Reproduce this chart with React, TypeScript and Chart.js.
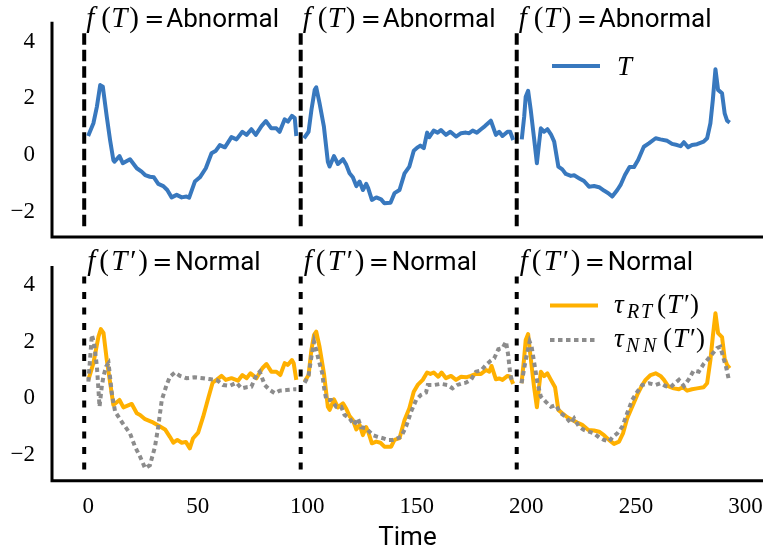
import React, { useEffect, useRef } from "react";
import { Chart, registerables } from "chart.js";

Chart.register(...registerables);

// ---------- data ----------
const X_TICKS = [0, 50, 100, 150, 200, 250, 300];
const Y_TICKS = [-2, 0, 2, 4];
const SEGMENT_STARTS = [-1.8, 97.0, 195.6];
const MARKER_TOP = 4.3;
const MARKER_BOTTOM = -2.55;
const TOP_OUTCOMES = ["Abnormal", "Abnormal", "Abnormal"];
const BOTTOM_OUTCOMES = ["Normal", "Normal", "Normal"];

const T_TIME = [
  [0, 2.4, 4, 5.5, 6.7, 8.5, 10, 11.5, 12, 14.3, 15.8, 19.1, 22.2, 24.4, 26, 28.2, 30, 32, 34.3, 36.1, 38.1, 40.4, 42.7, 44.9, 46.1, 48.7, 51, 53.7, 56.3, 58.3, 60.1, 62.4, 65.4, 67.7, 70.4, 72.3, 74.5, 76.5, 79.1, 81.1, 83.6, 85.9, 87.4, 89.7, 91.2, 93, 94.3, 95],
  [98.5, 100.6, 101.9, 103.4, 104.1, 105.6, 107.6, 109.4, 110.2, 112.2, 114, 116.3, 117.8, 119.3, 120.8, 122.4, 123.9, 125.4, 126.9, 127.8, 129.5, 131.5, 133.7, 135.2, 138, 139.8, 142.1, 144.4, 146.6, 148.6, 150.4, 151.6, 153.2, 154.7, 155.7, 157.7, 159.5, 161, 163.3, 165.3, 167.9, 170.2, 172.4, 173.9, 175.5, 177.4, 179.3, 181.1, 183.8, 186.1, 187.6, 189.1, 191.4, 192.6, 194],
  [197.9, 199, 199.7, 200.8, 202, 203.6, 204.8, 205.8, 206.6, 208.1, 209.6, 211.2, 212.7, 214.6, 216.4, 218, 220.3, 221.8, 224, 226.3, 228.6, 230.9, 233.2, 235.4, 237.4, 239.2, 241.5, 243, 245, 247.1, 249.1, 251, 253.6, 255.9, 259, 261.2, 264.3, 266.5, 268.8, 270.4, 271.9, 273.8, 275.6, 277.9, 280.9, 282.5, 284, 285.1, 286.3, 287.5, 289.3, 290.5, 291.6, 292.8],
];
const T_VALUES = [
  [0.67, 1.12, 1.71, 2.47, 2.41, 1.35, 0.53, -0.18, -0.24, -0.04, -0.29, -0.15, -0.47, -0.59, -0.71, -0.77, -0.79, -1.02, -1.1, -1.24, -1.5, -1.41, -1.5, -1.47, -1.51, -0.94, -0.79, -0.47, 0.06, 0.15, 0.35, 0.27, 0.63, 0.55, 0.82, 0.71, 0.91, 0.71, 1.02, 1.2, 0.94, 0.94, 0.82, 1.26, 1.18, 1.38, 1.3, 0.67],
  [0.59, 0.82, 1.59, 2.3, 2.39, 1.83, 1.0, -0.24, -0.41, -0.04, -0.32, -0.15, -0.35, -0.65, -0.79, -1.1, -0.94, -1.24, -1.02, -1.17, -1.59, -1.5, -1.57, -1.71, -1.69, -1.35, -1.24, -0.65, -0.41, 0.15, 0.27, 0.33, 0.24, 0.79, 0.63, 0.86, 0.79, 0.88, 0.71, 0.82, 0.65, 0.77, 0.79, 0.77, 0.86, 0.79, 0.91, 1.02, 1.21, 0.71, 0.82, 0.67, 0.82, 0.82, 0.53],
  [0.55, 1.35, 2.06, 2.27, 1.59, 0.53, -0.29, 0.41, 0.94, 0.82, 0.91, 0.73, 0.47, -0.41, -0.51, -0.67, -0.74, -0.72, -0.82, -0.92, -1.12, -1.1, -1.14, -1.26, -1.35, -1.47, -1.24, -1.06, -0.71, -0.43, -0.43, -0.18, 0.29, 0.41, 0.59, 0.55, 0.5, 0.39, 0.35, 0.31, 0.45, 0.27, 0.35, 0.38, 0.47, 0.59, 1.12, 1.94, 3.03, 2.3, 2.18, 1.47, 1.21, 1.14],
];

const RT_TIME = [
  [0.1, 2.4, 4.7, 5.8, 7, 8.5, 10.3, 11.5, 14.3, 16.1, 19.9, 22.2, 23.7, 26, 29, 32.8, 35.1, 37.3, 38.9, 40.7, 42.7, 44.6, 46.4, 47.9, 50.2, 52.5, 54.8, 56.8, 58.6, 60.9, 62.8, 65.4, 68.4, 70.4, 72.3, 74.1, 76.8, 79.5, 81.4, 83.6, 85.9, 87.7, 89.7, 91.2, 93, 93.8, 95],
  [98.8, 100.6, 101.9, 103.1, 104.1, 105.6, 107.6, 109.4, 110.2, 112.2, 114, 116.3, 117.8, 119.3, 120.8, 122.4, 123.9, 125.4, 126.9, 127.8, 129.5, 131.5, 133.4, 135.2, 138.3, 139.8, 142.1, 144.4, 146.6, 148.6, 150.4, 152.7, 154.7, 156.2, 157.7, 159.8, 161.3, 163.3, 165.6, 167.9, 170.2, 172.4, 174.7, 177, 179.3, 181.6, 183.1, 184.1, 186.1, 187.6, 189.1, 191.4, 192.6, 194],
  [197.8, 198.9, 199.7, 200.8, 201.9, 203.5, 204.8, 205.8, 206.6, 208.1, 209.6, 211.2, 213.1, 214.6, 216.4, 218.7, 221, 223.2, 225.5, 228.3, 230.9, 233.2, 235.4, 237.7, 240, 242.3, 244.1, 246, 248.3, 250.6, 252.9, 254.4, 256.7, 259, 261.2, 262.8, 264.7, 267.3, 269.6, 271.4, 273.4, 275.6, 277.9, 280.9, 282.5, 284, 285.1, 286.3, 287.5, 289.3, 290.5, 291.6, 292.8],
];
const RT_VALUES = [
  [0.65, 1.24, 2.18, 2.44, 2.31, 1.35, 0.41, -0.24, -0.06, -0.32, -0.2, -0.53, -0.59, -0.74, -0.83, -1.0, -1.1, -1.36, -1.57, -1.47, -1.57, -1.54, -1.77, -1.41, -1.21, -0.65, 0.0, 0.55, 0.65, 0.79, 0.65, 0.71, 0.62, 0.82, 0.71, 0.88, 0.71, 1.06, 1.21, 0.94, 0.94, 0.82, 1.24, 1.18, 1.35, 1.24, 0.65],
  [0.59, 0.82, 1.71, 2.24, 2.35, 1.82, 0.88, -0.3, -0.41, -0.04, -0.32, -0.18, -0.37, -0.63, -0.77, -1.1, -0.94, -1.3, -1.02, -1.18, -1.59, -1.53, -1.57, -1.71, -1.71, -1.47, -1.41, -0.77, -0.35, 0.23, 0.47, 0.65, 0.91, 0.86, 0.91, 0.76, 0.91, 0.71, 0.79, 0.65, 0.76, 0.74, 0.79, 0.86, 0.86, 1.0, 0.94, 1.14, 0.67, 0.7, 0.65, 0.79, 0.76, 0.51],
  [0.53, 1.35, 2.06, 2.27, 1.47, 0.41, -0.32, 0.41, 0.94, 0.78, 0.88, 0.65, 0.39, -0.41, -0.53, -0.67, -0.77, -0.86, -0.94, -1.12, -1.14, -1.18, -1.3, -1.47, -1.61, -1.53, -1.24, -0.71, -0.3, 0.12, 0.47, 0.65, 0.82, 0.88, 0.79, 0.65, 0.43, 0.35, 0.32, 0.39, 0.27, 0.32, 0.35, 0.39, 0.53, 1.35, 2.18, 3.0, 2.3, 2.16, 1.41, 1.18, 1.06],
];

const NN_TIME = [
  [0.1, 1.7, 2.7, 4, 5.2, 6.2, 7, 8.2, 9.3, 10.8, 12.3, 15.3, 19.1, 21.4, 23.7, 26, 28.2, 30.5, 32, 33.6, 35.8, 37.3, 39.6, 41.9, 44.9, 48.6, 52.5, 56.2, 58.6, 61.6, 64.7, 67.7, 70, 72.3, 74.5, 76.8, 78.3, 80.6, 82.9, 85.2, 87.4, 90.5, 94.3, 95],
  [98.8, 100.6, 101.9, 103.1, 104.1, 105.2, 106.8, 107.6, 108.7, 111, 113.2, 115.5, 117, 119.3, 121.3, 123.1, 124.6, 126.9, 129.9, 132.1, 134.5, 136.8, 139, 141.3, 142.8, 145.1, 147.4, 149.7, 151.9, 154.2, 155, 158, 161, 164, 166.3, 168.5, 170.8, 172.4, 174.7, 177, 179.3, 181.6, 183.8, 185.3, 187.2, 189.1, 190.7, 191.7, 192.6, 193.7],
  [197.8, 199.7, 201.5, 202.4, 203.6, 205.1, 206.6, 208.8, 211.2, 213.4, 215.7, 218, 220.3, 221.8, 224, 226.3, 228.6, 230.9, 233.2, 235.4, 237.7, 239.5, 241.5, 243.8, 246, 248.3, 250.6, 252.9, 255.9, 259, 261.2, 263.5, 265.8, 268, 269.6, 271.9, 274.1, 276.4, 278.7, 280.9, 283.2, 285.1, 287, 288.5, 290, 291.1, 292.6],
];
const NN_VALUES = [
  [0.59, 2.24, 1.94, 1.12, -0.3, 0.41, 0.78, 1.12, 1.24, 0.18, -0.47, -0.83, -1.24, -1.71, -2.06, -2.47, -2.36, -1.71, -1.0, -0.06, 0.47, 0.76, 0.91, 0.79, 0.71, 0.74, 0.71, 0.67, 0.65, 0.47, 0.44, 0.55, 0.35, 0.39, 0.41, 0.82, 0.94, 0.47, 0.29, 0.18, 0.27, 0.29, 0.32, 0.32],
  [0.55, 0.8, 1.47, 2.0, 1.71, 1.35, 0.9, 0.41, -0.06, -0.06, -0.3, -0.3, -0.59, -0.71, -0.94, -0.71, -1.02, -1.06, -1.3, -1.36, -1.41, -1.47, -1.47, -1.41, -1.36, -1.0, -0.47, -0.06, 0.12, 0.2, 0.47, 0.47, 0.51, 0.47, 0.35, 0.47, 0.53, 0.55, 0.65, 0.94, 0.98, 1.18, 1.33, 1.41, 1.73, 1.77, 2.0, 1.53, 0.88, 0.53],
  [0.53, 1.35, 2.0, 1.82, 1.24, 0.53, 0.06, -0.12, -0.3, -0.24, -0.53, -0.65, -0.88, -0.71, -1.0, -1.12, -1.18, -1.24, -1.38, -1.47, -1.53, -1.36, -1.24, -1.0, -0.53, -0.06, 0.23, 0.47, 0.53, 0.47, 0.53, 0.43, 0.39, 0.55, 0.65, 0.43, 0.67, 0.98, 0.94, 1.21, 1.41, 1.59, 1.77, 1.82, 1.41, 1.12, 0.59],
];

// ---------- style ----------
const BLUE = "#3878BE";
const ORANGE = "#FFB000";
const GRAY = "#8C8C8C";
const X_MIN = -16.5;
const X_MAX = 308;
const CANVAS_W = 763;

const SERIF = '"Liberation Serif", "DejaVu Serif", serif';
const SANS = 'Roboto, "DejaVu Sans", sans-serif';
const MATH_IT = `italic 29px ${SERIF}`;
const MATH_RM = `29px ${SERIF}`;
const MATH_EQ = `24px "DejaVu Serif", serif`;
const LEG_IT = `italic 27px ${SERIF}`;
const LEG_RM = `27px ${SERIF}`;
const MATH_SUB = `italic 20px ${SERIF}`;
const WORD = `26px ${SANS}`;

type Part = { t: string; font: string; at: number; dy?: number };

function toPoints(times: number[][], values: number[][]) {
  const pts: { x: number; y: number | null }[] = [];
  times.forEach((seg, i) => {
    if (i > 0) {
      const prev = times[i - 1];
      pts.push({ x: (prev[prev.length - 1] + seg[0]) / 2, y: null });
    }
    seg.forEach((x, j) => pts.push({ x, y: values[i][j] }));
  });
  return pts;
}

function markerDatasets(dash: number[]) {
  return SEGMENT_STARTS.map((x) => ({
    label: "segment",
    data: [
      { x, y: MARKER_TOP },
      { x, y: MARKER_BOTTOM },
    ],
    borderColor: "#000000",
    borderWidth: 4,
    borderDash: dash,
    pointRadius: 0,
    tension: 0,
    order: 5,
  }));
}

function drawParts(ctx: CanvasRenderingContext2D, x: number, y: number, parts: Part[]) {
  ctx.fillStyle = "#000";
  ctx.textBaseline = "alphabetic";
  ctx.textAlign = "left";
  for (const p of parts) {
    ctx.font = p.font;
    ctx.fillText(p.t, x + p.at, y + (p.dy || 0));
  }
}

function fmtTick(v: number) {
  return v < 0 ? "\u2212" + Math.abs(v) : String(v);
}

function spinePlugin() {
  return {
    id: "spines",
    afterDraw(chart: any) {
      const { ctx, chartArea } = chart;
      ctx.save();
      ctx.strokeStyle = "#000";
      ctx.lineWidth = 3;
      ctx.beginPath();
      ctx.moveTo(chartArea.left, chartArea.top);
      ctx.lineTo(chartArea.left, chartArea.bottom);
      ctx.moveTo(chartArea.left - 1.5, chartArea.bottom);
      ctx.lineTo(chartArea.right, chartArea.bottom);
      ctx.stroke();
      ctx.restore();
    },
  };
}

function spacerAxis(position: "top" | "bottom", size: number) {
  return {
    type: "linear" as const,
    position,
    afterFit: (s: any) => {
      s.height = size;
      s.paddingLeft = 0;
      s.paddingRight = 0;
      s.paddingTop = 0;
      s.paddingBottom = 0;
    },
    ticks: { display: false },
    grid: { display: false, drawTicks: false },
    border: { display: false },
  };
}

function yAxis(min: number, max: number) {
  return {
    type: "linear" as const,
    min,
    max,
    afterFit: (s: any) => {
      s.width = 52;
      s.paddingTop = 0;
      s.paddingBottom = 0;
      s.paddingLeft = 0;
      s.paddingRight = 0;
    },
    afterBuildTicks: (s: any) => {
      s.ticks = Y_TICKS.map((v) => ({ value: v }));
    },
    grid: { display: false, drawTicks: false },
    border: { display: false },
    ticks: {
      padding: 17,
      color: "#000",
      font: { family: SERIF, size: 23 },
      callback: (v: any) => fmtTick(Number(v)),
    },
  };
}

const BASE_OPTIONS = {
  animation: false as const,
  responsive: false,
  maintainAspectRatio: false,
  events: [] as any[],
  layout: { padding: 0 },
  plugins: { legend: { display: false }, tooltip: { enabled: false } },
};

function TopChart() {
  const ref = useRef<HTMLCanvasElement | null>(null);
  useEffect(() => {
    if (!ref.current) return;
    const labelPlugin = {
      id: "topLabels",
      afterDraw(chart: any) {
        const { ctx, scales } = chart;
        ctx.save();
        const base = scales.y.getPixelForValue(MARKER_TOP) - 6;
        SEGMENT_STARTS.forEach((sx, i) => {
          const x0 = scales.x.getPixelForValue(sx);
          drawParts(ctx, x0, base, [
            { t: "f", font: MATH_IT, at: 2 },
            { t: "(", font: MATH_RM, at: 17 },
            { t: "T", font: MATH_IT, at: 27 },
            { t: ")", font: MATH_RM, at: 45 },
            { t: "=", font: MATH_EQ, at: 60 },
            { t: TOP_OUTCOMES[i], font: WORD, at: 82 },
          ]);
        });
        // legend
        const ly = 66;
        ctx.strokeStyle = BLUE;
        ctx.lineWidth = 4;
        ctx.beginPath();
        ctx.moveTo(552, ly);
        ctx.lineTo(600, ly);
        ctx.stroke();
        drawParts(ctx, 617, ly + 9, [{ t: "T", font: LEG_IT, at: 0 }]);
        ctx.restore();
      },
    };
    const chart = new Chart(ref.current, {
      type: "line",
      data: {
        datasets: [
          {
            label: "T",
            data: toPoints(T_TIME, T_VALUES),
            borderColor: BLUE,
            borderWidth: 4,
            pointRadius: 0,
            tension: 0,
            spanGaps: false,
            borderJoinStyle: "round",
            order: 1,
          } as any,
          ...markerDatasets([11.5, 5]),
        ],
      },
      options: {
        ...BASE_OPTIONS,
        scales: {
          x: { ...spacerAxis("bottom", 8), min: X_MIN, max: X_MAX } as any,
          xTop: spacerAxis("top", 21.7) as any,
          y: yAxis(-2.9, 4.71) as any,
        },
      } as any,
      plugins: [spinePlugin(), labelPlugin],
    });
    return () => chart.destroy();
  }, []);
  return (
    <canvas
      ref={ref}
      width={CANVAS_W}
      height={245}
      style={{ position: "absolute", left: 0, top: 0, width: CANVAS_W, height: 245 }}
    />
  );
}

function BottomChart() {
  const ref = useRef<HTMLCanvasElement | null>(null);
  useEffect(() => {
    if (!ref.current) return;
    const labelPlugin = {
      id: "bottomLabels",
      afterDraw(chart: any) {
        const { ctx, scales } = chart;
        ctx.save();
        const base = scales.y.getPixelForValue(MARKER_TOP) - 6;
        SEGMENT_STARTS.forEach((sx, i) => {
          const x0 = scales.x.getPixelForValue(sx);
          drawParts(ctx, x0, base, [
            { t: "f", font: MATH_IT, at: 3 },
            { t: "(", font: MATH_RM, at: 15 },
            { t: "T", font: MATH_IT, at: 27 },
            { t: "\u2032", font: MATH_RM, at: 46 },
            { t: ")", font: MATH_RM, at: 54 },
            { t: "=", font: MATH_EQ, at: 68 },
            { t: BOTTOM_OUTCOMES[i], font: WORD, at: 91 },
          ]);
        });
        // legend
        const rows = [
          { y: 305.5 - 245, color: ORANGE, dash: [] as number[], sub: ["R", "T"], subAt: [13, 27], paren: 43 },
          { y: 340 - 245, color: GRAY, dash: [4.5, 3.5], sub: ["N", "N"], subAt: [12, 29], paren: 49 },
        ];
        rows.forEach((r) => {
          ctx.strokeStyle = r.color;
          ctx.lineWidth = 4;
          ctx.setLineDash(r.dash);
          ctx.beginPath();
          ctx.moveTo(550, r.y);
          ctx.lineTo(598, r.y);
          ctx.stroke();
          ctx.setLineDash([]);
          const b = r.y + 7;
          drawParts(ctx, 614, b, [
            { t: "\u03c4", font: LEG_IT, at: 0 },
            { t: r.sub[0], font: MATH_SUB, at: r.subAt[0], dy: 5 },
            { t: r.sub[1], font: MATH_SUB, at: r.subAt[1], dy: 5 },
            { t: "(", font: LEG_RM, at: r.paren },
            { t: "T", font: LEG_IT, at: r.paren + 10 },
            { t: "\u2032", font: LEG_RM, at: r.paren + 27 },
            { t: ")", font: LEG_RM, at: r.paren + 33 },
          ]);
        });
        ctx.restore();
      },
    };
    const chart = new Chart(ref.current, {
      type: "line",
      data: {
        datasets: [
          {
            label: "\u03c4_NN(T\u2032)",
            data: toPoints(NN_TIME, NN_VALUES),
            borderColor: GRAY,
            borderWidth: 4,
            borderDash: [4.5, 3.5],
            pointRadius: 0,
            tension: 0,
            spanGaps: false,
            order: 0,
          } as any,
          {
            label: "\u03c4_RT(T\u2032)",
            data: toPoints(RT_TIME, RT_VALUES),
            borderColor: ORANGE,
            borderWidth: 4,
            pointRadius: 0,
            tension: 0,
            spanGaps: false,
            borderJoinStyle: "round",
            order: 1,
          } as any,
          ...markerDatasets([7, 8.5]),
        ],
      },
      options: {
        ...BASE_OPTIONS,
        scales: {
          x: {
            type: "linear",
            position: "bottom",
            min: X_MIN,
            max: X_MAX,
            afterFit: (s: any) => {
              s.height = 71.3;
              s.paddingLeft = 0;
              s.paddingRight = 0;
              s.paddingTop = 0;
              s.paddingBottom = 0;
            },
            afterBuildTicks: (s: any) => {
              s.ticks = X_TICKS.map((v) => ({ value: v }));
            },
            grid: { display: false, drawTicks: false },
            border: { display: false },
            ticks: {
              padding: 12,
              color: "#000",
              maxRotation: 0,
              autoSkip: false,
              font: { family: SERIF, size: 23 },
              callback: (v: any) => fmtTick(Number(v)),
            },
            title: {
              display: true,
              text: "Time",
              color: "#000",
              font: { family: SANS, size: 26 },
              padding: { top: 0, bottom: -2 },
            },
          } as any,
          xTop: spacerAxis("top", 21) as any,
          y: yAxis(-2.91, 4.67) as any,
        },
      } as any,
      plugins: [spinePlugin(), labelPlugin],
    });
    return () => chart.destroy();
  }, []);
  return (
    <canvas
      ref={ref}
      width={CANVAS_W}
      height={307}
      style={{ position: "absolute", left: 0, top: 245, width: CANVAS_W, height: 307 }}
    />
  );
}

export default function App() {
  return (
    <div
      style={{
        position: "fixed",
        left: 0,
        top: 0,
        width: 766,
        height: 552,
        background: "#ffffff",
        overflow: "hidden",
      }}
    >
      <TopChart />
      <BottomChart />
    </div>
  );
}
